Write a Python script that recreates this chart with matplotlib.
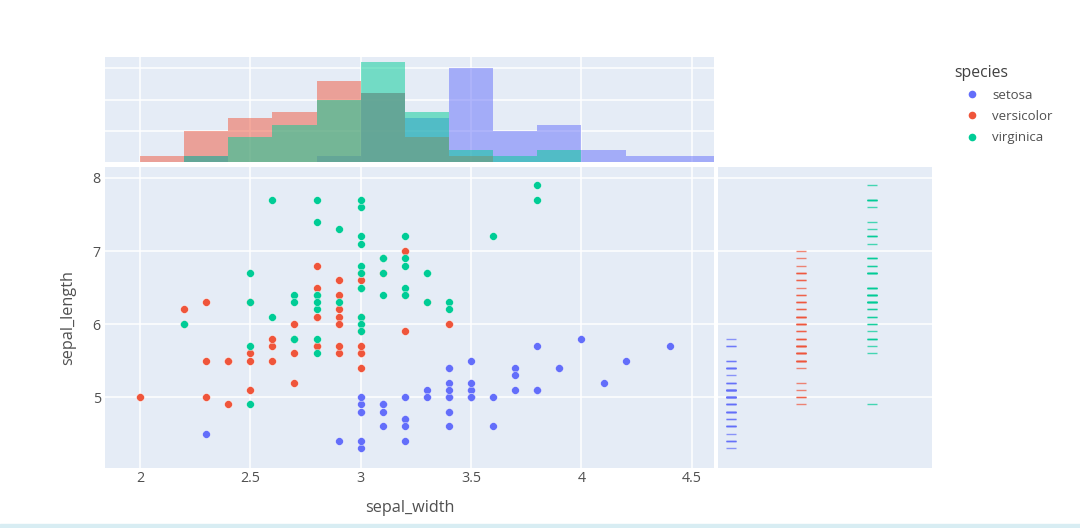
import numpy as np
import matplotlib.pyplot as plt
from matplotlib.patches import Rectangle
from matplotlib.lines import Line2D

plt.rcParams["font.family"] = ["Open Sans", "DejaVu Sans"]

# -------------------------
# Data (iris: sepal_width / sepal_length per species)
# -------------------------

species = ["setosa", "versicolor", "virginica"]

setosa_width = [3.5, 3.0, 3.2, 3.1, 3.6, 3.9, 3.4, 3.4, 2.9, 3.1,
                3.7, 3.4, 3.0, 3.0, 4.0, 4.4, 3.9, 3.5, 3.8, 3.8,
                3.4, 3.7, 3.6, 3.3, 3.4, 3.0, 3.4, 3.5, 3.4, 3.2,
                3.1, 3.4, 4.1, 4.2, 3.1, 3.2, 3.5, 3.1, 3.0, 3.4,
                3.5, 2.3, 3.2, 3.5, 3.8, 3.0, 3.8, 3.2, 3.7, 3.3]
setosa_length = [5.1, 4.9, 4.7, 4.6, 5.0, 5.4, 4.6, 5.0, 4.4, 4.9,
                 5.4, 4.8, 4.8, 4.3, 5.8, 5.7, 5.4, 5.1, 5.7, 5.1,
                 5.4, 5.1, 4.6, 5.1, 4.8, 5.0, 5.0, 5.2, 5.2, 4.7,
                 4.8, 5.4, 5.2, 5.5, 4.9, 5.0, 5.5, 4.9, 4.4, 5.1,
                 5.0, 4.5, 4.4, 5.0, 5.1, 4.8, 5.1, 4.6, 5.3, 5.0]

versicolor_width = [3.2, 3.2, 3.1, 2.3, 2.8, 2.8, 3.3, 2.4, 2.9, 2.7,
                    2.0, 3.0, 2.2, 2.9, 2.9, 3.1, 3.0, 2.7, 2.2, 2.5,
                    3.2, 2.8, 2.5, 2.8, 2.9, 3.0, 2.8, 3.0, 2.9, 2.6,
                    2.4, 2.4, 2.7, 2.7, 3.0, 3.4, 3.1, 2.3, 3.0, 2.5,
                    2.6, 3.0, 2.6, 2.3, 2.7, 3.0, 2.9, 2.9, 2.5, 2.8]
versicolor_length = [7.0, 6.4, 6.9, 5.5, 6.5, 5.7, 6.3, 4.9, 6.6, 5.2,
                     5.0, 5.9, 6.0, 6.1, 5.6, 6.7, 5.6, 5.8, 6.2, 5.6,
                     5.9, 6.1, 6.3, 6.1, 6.4, 6.6, 6.8, 6.7, 6.0, 5.7,
                     5.5, 5.5, 5.8, 6.0, 5.4, 6.0, 6.7, 6.3, 5.6, 5.5,
                     5.5, 6.1, 5.8, 5.0, 5.6, 5.7, 5.7, 6.2, 5.1, 5.7]

virginica_width = [3.3, 2.7, 3.0, 2.9, 3.0, 3.0, 2.5, 2.9, 2.5, 3.6,
                   3.2, 2.7, 3.0, 2.5, 2.8, 3.2, 3.0, 3.8, 2.6, 2.2,
                   3.2, 2.8, 2.8, 2.7, 3.3, 3.2, 2.8, 3.0, 2.8, 3.0,
                   2.8, 3.8, 2.8, 2.8, 2.6, 3.0, 3.4, 3.1, 3.0, 3.1,
                   3.1, 3.1, 2.7, 3.2, 3.3, 3.0, 2.5, 3.0, 3.4, 3.0]
virginica_length = [6.3, 5.8, 7.1, 6.3, 6.5, 7.6, 4.9, 7.3, 6.7, 7.2,
                    6.5, 6.4, 6.8, 5.7, 5.8, 6.4, 6.5, 7.7, 7.7, 6.0,
                    6.9, 5.6, 7.7, 6.3, 6.7, 7.2, 6.2, 6.1, 6.4, 7.2,
                    7.4, 7.9, 6.4, 6.3, 6.1, 7.7, 6.3, 6.4, 6.0, 6.9,
                    6.7, 6.9, 5.8, 6.8, 6.7, 6.7, 6.3, 6.5, 6.2, 5.9]

widths = [setosa_width, versicolor_width, virginica_width]
lengths = [setosa_length, versicolor_length, virginica_length]

x_ticks = [2, 2.5, 3, 3.5, 4, 4.5]
x_tick_labels = ["2", "2.5", "3", "3.5", "4", "4.5"]
y_ticks = [5, 6, 7, 8]
hist_ticks = [5, 10, 15]

# -------------------------
# Style
# -------------------------

colors = ["#636EFA", "#EF553B", "#00CC96"]
bg = "#E5ECF6"
text_col = "#505050"

bins = np.round(np.arange(20, 48, 2) / 10.0, 1)

fig = plt.figure(figsize=(10.8, 5.28), dpi=100)

ax = fig.add_axes([0.0972, 0.1136, 0.5639, 0.5701])
ax_top = fig.add_axes([0.0972, 0.6932, 0.5639, 0.1989], sharex=ax)
ax_rug = fig.add_axes([0.6648, 0.1136, 0.1981, 0.5701], sharey=ax)

for a in (ax, ax_top, ax_rug):
    a.set_facecolor(bg)
    for s in a.spines.values():
        s.set_visible(False)
    a.set_axisbelow(True)
    a.tick_params(length=0, colors=text_col, labelsize=10.3)

# -------------------------
# Main scatter
# -------------------------

for w, l, c, name in zip(widths, lengths, colors, species):
    ax.scatter(w, l, s=32, color=c, edgecolors="white", linewidths=0.3,
               label=name, zorder=3)

ax.set_xlim(1.842, 4.6)
ax.set_ylim(4.03, 8.15)
ax.set_xticks(x_ticks)
ax.set_xticklabels(x_tick_labels)
ax.set_yticks(y_ticks)
ax.grid(True, color="white", linewidth=1.1)
ax.tick_params(axis="x", pad=2)
ax.tick_params(axis="y", pad=3)
ax.set_xlabel("sepal_width", fontsize=11.7, color=text_col, labelpad=10)
ax.set_ylabel("sepal_length", fontsize=11.7, color=text_col, labelpad=12)

# -------------------------
# Top histogram
# -------------------------

for w, c in zip(widths, colors):
    counts, edges = np.histogram(w, bins=bins)
    ax_top.bar(edges[:-1], counts, width=np.diff(edges), align="edge",
               color=c, alpha=0.5, linewidth=0, zorder=3)

ax_top.set_ylim(0, 16.84)
ax_top.set_yticks(hist_ticks)
ax_top.grid(True, color="white", linewidth=1.1)
ax_top.tick_params(labelbottom=False, labelleft=False)

# -------------------------
# Right rug
# -------------------------

for i, (l, c) in enumerate(zip(lengths, colors)):
    ax_rug.scatter(np.full(len(l), i), l, marker="_", s=50,
                   color=c, linewidths=1.0, alpha=0.7, zorder=3)

ax_rug.set_xlim(-0.184, 2.85)
ax_rug.set_xticks([])
ax_rug.grid(True, axis="y", color="white", linewidth=1.1)
ax_rug.tick_params(labelleft=False)

# -------------------------
# Legend
# -------------------------

handles = [Line2D([], [], marker="o", linestyle="", markersize=5.5,
                  markerfacecolor=c, markeredgewidth=0) for c in colors]
leg = fig.legend(handles, species, title="species", loc="upper left",
                 bbox_to_anchor=(0.873, 0.9), frameon=False,
                 fontsize=9.5, title_fontsize=11.3, handletextpad=0.25,
                 handlelength=2.6, labelspacing=0.62, alignment="left")
for t in leg.get_texts():
    t.set_color(text_col)
leg.get_title().set_color("#404040")

# bottom strip from the screenshot
fig.patches.append(Rectangle((0, 0), 1, 4 / 528, transform=fig.transFigure,
                             color="#d8edf3", zorder=0))

fig.savefig("out.png", dpi=100)
